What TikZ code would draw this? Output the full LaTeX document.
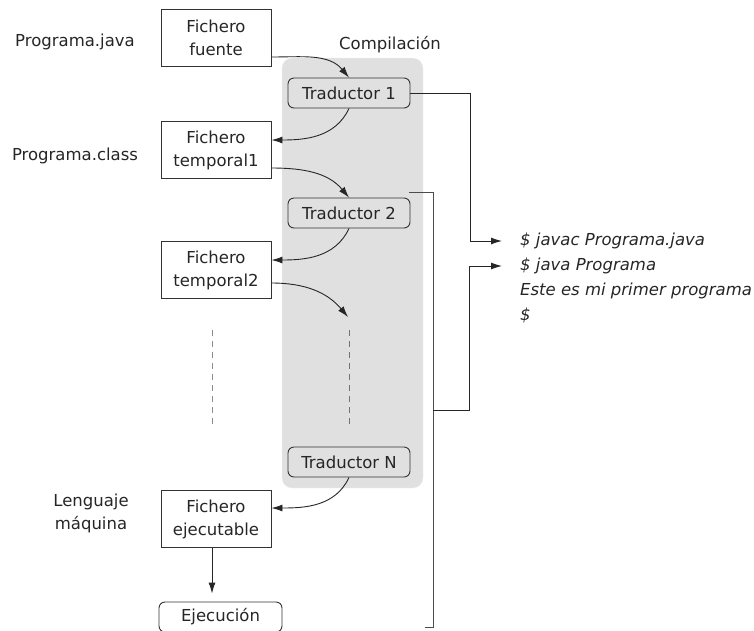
\documentclass[tikz,border=0pt]{standalone}
\usepackage{fontspec}
\setmainfont{DejaVu Sans}
\usetikzlibrary{arrows.meta}

\begin{document}
\begin{tikzpicture}[
    x=1pt, y=-1pt,
    every node/.style = {font=\fontsize{16.5}{23}\selectfont, text=black!85},
    fichero/.style = {draw=black!80, line width=0.9pt, fill=white,
                minimum width=110pt, minimum height=57pt, align=center,
                inner sep=0pt},
    traductor/.style = {draw=black!80, line width=0.9pt, fill=black!12,
                rounded corners=6pt, minimum width=122pt,
                minimum height=30pt, inner sep=0pt},
    compila/.style = {draw=red!8, fill=black!12, rounded corners=10pt,
                minimum width=141pt, minimum height=430pt},
    etiq/.style = {align=center, inner sep=0pt},
    cmd/.style = {anchor=west, inner sep=0pt,
                font=\fontsize{16.5}{23}\selectfont\itshape},
    arr/.style = {draw=black!85, line width=0.9pt,
                -{Latex[length=11pt,width=7pt]}},
    linea/.style = {draw=black!70, line width=0.9pt},
    puntos/.style = {draw=black!45, line width=1pt,
                dash pattern=on 6pt off 5pt}  % dashed continuation
                    ]
    \useasboundingbox (0,0) rectangle (754,630);
    \def\fx{216}
    \def\tx{349}
    % compilation area
    \node[compila] at (352.5,273) (comp) {};
    \node[etiq] at (390,45) (compt) {Compilación};
    % files on the left
    \node[fichero] at (\fx,38) (ff) {Fichero\\fuente};
    \node[fichero] at (\fx,150) (tmp1) {Fichero\\temporal1};
    \node[fichero] at (\fx,270) (tmp2) {Fichero\\temporal2};
    \node[fichero] at (\fx,519) (exe) {Fichero\\ejecutable};
    \node[draw=black!80, line width=0.9pt, fill=white, rounded corners=6pt,
          minimum width=123pt, minimum height=30pt, inner sep=0pt]
          at (220.5,617) (ejec) {Ejecución};
    % translators
    \node[traductor] at (\tx,93) (t1) {Traductor 1};
    \node[traductor] at (\tx,213) (t2) {Traductor 2};
    \node[traductor] at (\tx,462) (tN) {Traductor N};
    % labels
    \node[etiq] at (75,42) (pjava) {Programa.java};
    \node[etiq] at (75,156) (pclass) {Programa.class};
    \node[etiq] at (91,513) (lmaq) {Lenguaje\\máquina};
    % terminal output
    \node[cmd] at (520,241) (cmd1) {\$ javac Programa.java};
    \node[cmd] at (520,266) (cmd2) {\$ java Programa};
    \node[cmd] at (520,291) (out1) {Este es mi primer programa};
    \node[cmd] at (520,315) (out2) {\$};
    \coordinate (c2end) at (348,317);
    \coordinate (b1) at (470,241);
    \coordinate (brtop) at (433,192);
    \coordinate (brmid) at (433,410);
    \coordinate (b2) at (469,266);
    % flow
    \draw[arr] ([yshift=-19pt]ff.east) to[out=0,in=130] (t1.north);
    \draw[arr] (t1.south) to[out=-115,in=0] ([yshift=10pt]tmp1.east);
    \draw[arr] ([yshift=-18pt]tmp1.east) to[out=0,in=130] (t2.north);
    \draw[arr] (t2.south) to[out=-115,in=0] ([yshift=10pt]tmp2.east);
    \draw[arr] ([yshift=-13pt]tmp2.east) to[out=0,in=130] (c2end);
    \draw[arr] (tN.south) to[out=-115,in=0] ([yshift=11pt]exe.east);
    \draw[arr, shorten >=8pt] ([xshift=-4pt]exe.south)
        -- ([xshift=-4pt]exe.south |- ejec.north);
    % dashed gaps
    \draw[puntos] (212,330) -- (212,428);
    \draw[puntos, draw=black!55] (\tx,330) -- (\tx,428);
    % brackets to the terminal
    \draw[arr, shorten >=18pt] (t1.east) -| (b1) -- (cmd1.west);
    \draw[linea] (409,192) -- (brtop) -- (433,627) -- (425,627);
    \draw[arr, shorten >=18pt] (brmid) -| (b2) -- (cmd2.west);
\end{tikzpicture}
\end{document}
